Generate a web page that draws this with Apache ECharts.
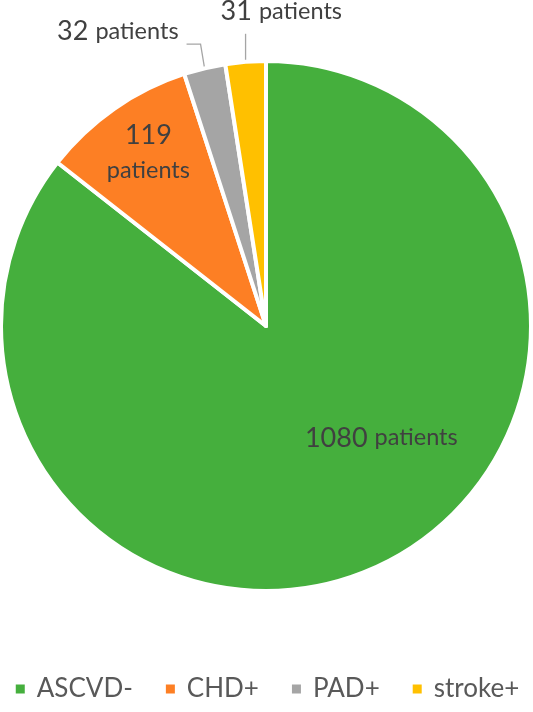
<!DOCTYPE html>
<html>
<head>
    <meta charset="utf-8">
    <title>ASCVD patients</title>
    <style>
        html, body { margin: 0; padding: 0; background: #fff; }
        #chart_main { width: 533px; height: 712px; }
    </style>
</head>
<body>
    <div id="chart_main"></div>
    <script src="https://cdn.jsdelivr.net/npm/echarts@6/dist/echarts.min.js"></script>
    <script>
        // data
        var groups = ['ASCVD-', 'CHD+', 'PAD+', 'stroke+'];
        var patients = [1080, 119, 32, 31];
        var colors = ['#45AF3D', '#FD7F24', '#A5A5A5', '#FFC000'];

        var myChart = echarts.init(document.getElementById('chart_main'));

        var textColor = '#404040';
        var rich = {
            n: { fontSize: 27, color: textColor, fontFamily: 'Lato', lineHeight: 34 },
            p: { fontSize: 23.5, color: textColor, fontFamily: 'Lato', lineHeight: 34, padding: [0, 0, 0, 7] },
            p2: { fontSize: 23.5, color: textColor, fontFamily: 'Lato', lineHeight: 36 }
        };

        // label placement per slice (inside for the big two, leader lines for small ones)
        var labelSetup = [
            { position: 'inside', offset: [56, -10], formatter: '{n|{c}}{p|patients}' },
            { position: 'inside', offset: [-40, -62], formatter: '{n|{c}}\n{p2|patients}' },
            { position: 'outside', formatter: '{n|{c}}{p|patients}' },
            { position: 'outside', formatter: '{n|{c}}{p|patients}' }
        ];

        var pieData = [];
        for (var i = 0; i < groups.length; i++) {
            var outside = labelSetup[i].position == 'outside';
            pieData.push({
                name: groups[i],
                value: patients[i],
                itemStyle: { color: colors[i] },
                label: labelSetup[i],
                labelLine: { show: outside }
            });
        }

        var option = {
            animation: false,
            legend: {
                data: groups,
                bottom: 5,
                left: 'center',
                icon: 'rect',
                itemWidth: 11,
                itemHeight: 11,
                itemGap: 31,
                textStyle: { fontSize: 26, color: '#595959', fontFamily: 'Lato', padding: [0, 0, 0, 6] }
            },
            series: [{
                type: 'pie',
                center: [266, 326],
                radius: 265,
                startAngle: 90,
                clockwise: true,
                avoidLabelOverlap: false,
                itemStyle: { borderColor: '#fff', borderWidth: 4 },
                label: { show: true, rich: rich },
                labelLine: {
                    lineStyle: { color: '#A5A5A5', width: 1.3 }
                },
                labelLayout: function (params) {
                    var p0 = params.labelLinePoints && params.labelLinePoints[0];
                    if (!p0) return {};
                    if (params.dataIndex == 2) {
                        var p1 = [p0[0] - 4, p0[1] - 24];
                        var p2 = [p1[0] - 14, p1[1]];
                        return {
                            x: p2[0] - 8, y: p2[1] - 13,
                            align: 'right', verticalAlign: 'middle',
                            labelLinePoints: [p0, p1, p2]
                        };
                    }
                    if (params.dataIndex == 3) {
                        var q1 = [p0[0], p0[1] - 28];
                        return {
                            x: q1[0] - 25, y: q1[1] - 22,
                            align: 'left', verticalAlign: 'middle',
                            labelLinePoints: [p0, q1]
                        };
                    }
                    return {};
                },
                data: pieData
            }]
        };

        myChart.setOption(option);
    </script>
</body>
</html>
